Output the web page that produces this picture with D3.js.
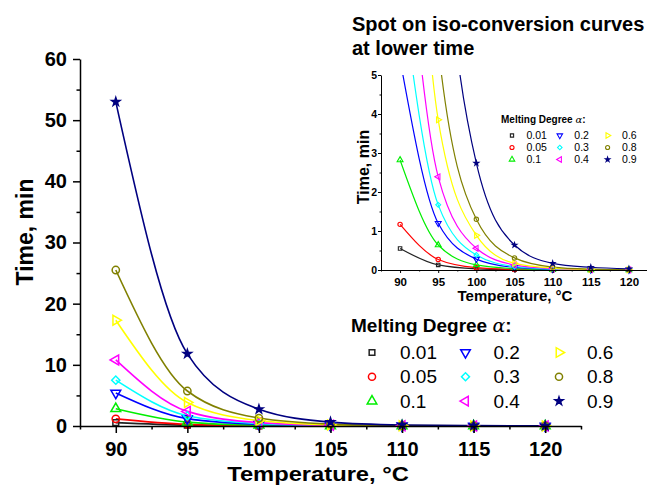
<!DOCTYPE html>
<html>
<head>
<meta charset="utf-8">
<script src="https://cdn.jsdelivr.net/npm/d3@7"></script>
<style>
  body { margin: 0; background: #fff; }
  text { font-family: "Liberation Sans", Arial, sans-serif; fill: #000; }
</style>
</head>
<body>
<script>
var width = 647,
    height = 488;

// data
var temps = [90, 95, 100, 105, 110, 115, 120];
var degrees = ['0.01', '0.05', '0.1', '0.2', '0.3', '0.4', '0.6', '0.8', '0.9'];
var t001 = [0.55, 0.13, 0.03, 0.008, 0.002, 0.0006, 0.0002];
var t005 = [1.17, 0.27, 0.06, 0.015, 0.004, 0.001, 0.0003];
var t01  = [2.82, 0.64, 0.13, 0.033, 0.009, 0.0025, 0.0007];
var t02  = [5.4, 1.2, 0.28, 0.065, 0.017, 0.005, 0.0015];
var t03  = [7.5, 1.67, 0.385, 0.09, 0.024, 0.007, 0.002];
var t04  = [10.8, 2.39, 0.556, 0.13, 0.034, 0.01, 0.003];
var t06  = [17.3, 3.85, 0.89, 0.17, 0.05, 0.015, 0.005];
var t08  = [25.5, 5.72, 1.3, 0.31, 0.075, 0.022, 0.007];
var t09  = [53, 11.8, 2.74, 0.64, 0.17, 0.07, 0.03];
var times = [t001, t005, t01, t02, t03, t04, t06, t08, t09];

var colours = ['#222222', '#ff0000', '#00ee00', '#0000ff', '#00ffff', '#ff00ff', '#ffff00', '#808000', '#000080'];
// marker: [d3 symbol, rotation, filled]
var markers = [
  [d3.symbolSquare, 0, false],
  [d3.symbolCircle, 0, false],
  [d3.symbolTriangle, 0, false],
  [d3.symbolTriangle, 180, false],
  [d3.symbolSquare, 45, false],
  [d3.symbolTriangle, -90, false],
  [d3.symbolTriangle, 90, false],
  [d3.symbolCircle, 0, false],
  [d3.symbolStar, 0, true]
];

var svg = d3.select('body').append('svg')
    .attr('xmlns', 'http://www.w3.org/2000/svg')
    .attr('width', width)
    .attr('height', height);

var series = degrees.map(function(d, i) {
  return { name: d, colour: colours[i], marker: markers[i],
           points: temps.map(function(t, j) { return [t, times[i][j]]; }) };
});

function marker(sel, s, size, sw) {
  var m = s.marker;
  var sz = size;
  if (m[0] === d3.symbolSquare) sz = size * 0.8;
  if (m[0] === d3.symbolStar) sz = size * 0.5;
  sel.attr('d', d3.symbol().type(m[0]).size(sz))
     .attr('fill', m[2] ? s.colour : 'none')
     .attr('stroke', s.colour)
     .attr('stroke-width', sw);
}

function drawPanel(g, x, y, opt) {
  var line = d3.line()
      .x(function(p) { return x(p[0]); })
      .y(function(p) { return y(p[1]); })
      .curve(d3.curveMonotoneX);

  var plot = g.append('g');
  if (opt.clip) plot.attr('clip-path', 'url(#' + opt.clip + ')');

  series.forEach(function(s) {
    plot.append('path')
        .attr('d', line(s.points))
        .attr('fill', 'none')
        .attr('stroke', s.colour)
        .attr('stroke-width', opt.lw);
  });
  series.forEach(function(s) {
    plot.selectAll(null).data(s.points).enter().append('path')
        .attr('transform', function(p) { return 'translate(' + x(p[0]) + ',' + y(p[1]) + ') rotate(' + s.marker[1] + ')'; })
        .call(marker, s, opt.ms, opt.msw);
  });

  var x0 = y.range()[0];
  var xMinor = d3.range(87.5, 123, 5);

  var gx = g.append('g').attr('transform', 'translate(0,' + x0 + ')');
  gx.call(d3.axisBottom(x).tickValues(temps).tickSize(opt.tick).tickSizeOuter(0).tickFormat(d3.format('d')));
  gx.append('g').call(d3.axisBottom(x).tickValues(xMinor).tickSize(opt.tick / 2).tickFormat(''))
    .select('.domain').remove();
  gx.selectAll('text').attr('dy', null).attr('y', opt.xLabelY)
    .style('font-size', opt.tickFont + 'px').style('font-weight', 'bold');

  var gy = g.append('g').attr('transform', 'translate(' + x.range()[0] + ',0)');
  gy.call(d3.axisLeft(y).tickValues(opt.yTicks).tickSize(opt.tick).tickPadding(opt.yPad).tickSizeOuter(0).tickFormat(d3.format('d')));
  gy.append('g').call(d3.axisLeft(y).tickValues(opt.yMinor).tickSize(opt.tick / 2).tickFormat(''))
    .select('.domain').remove();
  gy.selectAll('text').style('font-size', opt.yTickFont + 'px').style('font-weight', 'bold');

  g.selectAll('.domain, .tick line').attr('stroke', '#000').attr('stroke-width', opt.aw);
}

function legend(g, x0, y0, opt) {
  g.append('text')
      .attr('x', x0).attr('y', y0)
      .style('font-size', opt.titleFont + 'px').style('font-weight', 'bold')
      .text('Melting Degree ')
      .append('tspan').style('font-family', '"DejaVu Serif", serif').style('font-style', 'italic').style('font-weight', 'normal')
      .text('α').append('tspan').style('font-family', '"Liberation Sans", Arial, sans-serif').style('font-style', 'normal').style('font-weight', 'bold').text(':');
  series.forEach(function(s, i) {
    var col = Math.floor(i / 3), row = i % 3;
    var cx = opt.symX + col * opt.colW, cy = opt.rowY + row * opt.rowH;
    g.append('path')
        .attr('transform', 'translate(' + cx + ',' + cy + ') rotate(' + s.marker[1] + ')')
        .call(marker, s, opt.ms, opt.msw);
    g.append('text')
        .attr('x', cx + opt.textDx).attr('y', cy).attr('dy', '0.35em')
        .style('font-size', opt.font + 'px')
        .text(s.name);
  });
}

// main chart
var xMain = d3.scaleLinear().domain([87.5, 122.5]).range([80, 581]);
var yMain = d3.scaleLinear().domain([0, 60]).range([426, 59]);
var main = svg.append('g');
drawPanel(main, xMain, yMain, {
  lw: 1.6, ms: 42, msw: 1.5, tick: 7, aw: 1.5, tickFont: 20, yTickFont: 20, xLabelY: 30, yPad: 6,
  yTicks: d3.range(0, 61, 10), yMinor: d3.range(5, 60, 10)
});
main.append('text')
    .attr('transform', 'translate(318,481) scale(1.13,1)').attr('text-anchor', 'middle')
    .style('font-size', '21px').style('font-weight', 'bold')
    .text('Temperature, °C');
main.append('text')
    .attr('transform', 'translate(33,232) rotate(-90)').attr('text-anchor', 'middle')
    .style('font-size', '23px').style('font-weight', 'bold')
    .text('Time, min');

legend(svg.append('g'), 351, 332, {
  titleFont: 19, font: 19, symX: 372, colW: 93.5, rowY: 352.5, rowH: 24.3, textDx: 28, ms: 40, msw: 1.5
});

// inset
var xIn = d3.scaleLinear().domain([87.5, 122.5]).range([381, 648]);
var yIn = d3.scaleLinear().domain([0, 5]).range([270, 75]);
svg.append('clipPath').attr('id', 'inclip')
  .append('rect').attr('x', 370).attr('y', 75).attr('width', 280).attr('height', 220);
var inset = svg.append('g');
drawPanel(inset, xIn, yIn, {
  clip: 'inclip', lw: 1.2, ms: 15, msw: 1.1, tick: 3, aw: 1, tickFont: 11.5, yTickFont: 10.5, xLabelY: 15.5, yPad: 1,
  yTicks: d3.range(0, 6, 1), yMinor: d3.range(0.5, 5, 1)
});
inset.append('text')
    .attr('x', 515).attr('y', 301).attr('text-anchor', 'middle')
    .style('font-size', '15px').style('font-weight', 'bold')
    .text('Temperature, °C');
inset.append('text')
    .attr('transform', 'translate(369,167) rotate(-90)').attr('text-anchor', 'middle')
    .style('font-size', '16px').style('font-weight', 'bold')
    .text('Time, min');
inset.append('text')
    .attr('x', 352).attr('y', 31)
    .style('font-size', '20px').style('font-weight', 'bold')
    .text('Spot on iso-conversion curves');
inset.append('text')
    .attr('x', 352).attr('y', 54.5)
    .style('font-size', '20px').style('font-weight', 'bold')
    .text('at lower time');

legend(svg.append('g'), 501, 123, {
  titleFont: 10, font: 10.5, symX: 512, colW: 47.8, rowY: 135.5, rowH: 12, textDx: 14.5, ms: 13, msw: 1.1
});
</script>
</body>
</html>
